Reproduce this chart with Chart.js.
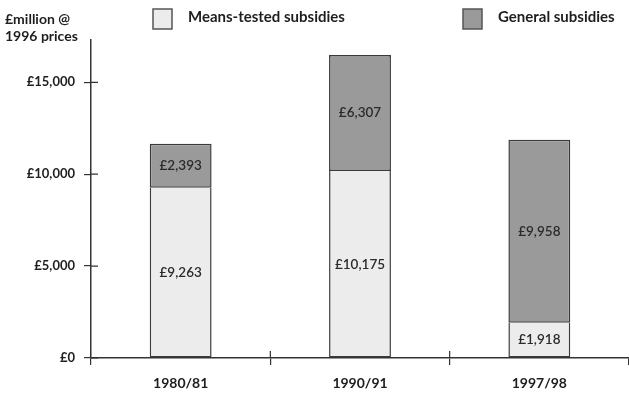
<!DOCTYPE html>
<html>
<head>
<meta charset="utf-8">
<script src="https://cdn.jsdelivr.net/npm/chart.js@4"></script>
<style>
  html, body { margin: 0; padding: 0; background: #fff; }
  #wrap { width: 629px; height: 395px; }
</style>
</head>
<body>
<div id="wrap"><canvas id="subsidies"></canvas></div>
<script>
const years = ['1980/81', '1990/91', '1997/98'];
const meansTested = [9263, 10175, 1918];
const general = [2393, 6307, 9958];
const yTicks = [0, 5000, 10000, 15000];

const FONT = 'Lato, "Open Sans", sans-serif';
const INK = '#1e1e1e';

// money labels like £9,263
const money = v => '£' + v.toLocaleString('en-GB');

// values printed inside each bar segment
const segmentLabels = {
    id: 'segmentLabels',
    afterDatasetsDraw(chart) {
        const ctx = chart.ctx;
        ctx.save();
        ctx.font = '600 13.5px ' + FONT;
        ctx.fillStyle = '#2a2a2a';
        ctx.textAlign = 'center';
        ctx.textBaseline = 'middle';
        chart.data.datasets.forEach((ds, i) => {
            chart.getDatasetMeta(i).data.forEach((bar, j) => {
                const y = (bar.y + bar.base) / 2;
                ctx.fillText(money(ds.data[j]), bar.x, y);
            });
        });
        ctx.restore();
    }
};

// axis title top-left, legend boxes, and the inner half of the tick crosses
const decorations = {
    id: 'decorations',
    afterDraw(chart) {
        const ctx = chart.ctx;
        const yScale = chart.scales.y;
        const xScale = chart.scales.x;
        ctx.save();
        ctx.fillStyle = INK;
        ctx.font = 'bold 14px ' + FONT;
        ctx.textAlign = 'left';
        ctx.textBaseline = 'middle';
        ctx.fillText('£million @', 5, 19);
        ctx.fillText('1996 prices', 5, 36);

        // legend
        const legendX = [153, 463];
        chart.data.datasets.forEach((ds, i) => {
            const x = legendX[i];
            ctx.fillStyle = ds.backgroundColor;
            ctx.fillRect(x, 9, 19, 20);
            ctx.strokeStyle = '#555';
            ctx.lineWidth = 1.5;
            ctx.strokeRect(x, 9, 19, 20);
            ctx.fillStyle = INK;
            ctx.font = 'bold 15px ' + FONT;
            ctx.fillText(ds.label, x + 35, 17);
        });

        // tick crosses
        ctx.strokeStyle = '#333';
        ctx.lineWidth = 1.2;
        ctx.beginPath();
        yTicks.forEach(t => {
            const y = yScale.getPixelForValue(t);
            ctx.moveTo(yScale.right, y);
            ctx.lineTo(yScale.right + 7, y);
        });
        for (let i = 1; i < years.length; i++) {
            const x = (xScale.getPixelForTick(i - 1) + xScale.getPixelForTick(i)) / 2;
            ctx.moveTo(x, xScale.top);
            ctx.lineTo(x, xScale.top - 7);
        }
        ctx.stroke();
        ctx.restore();
    }
};

new Chart(document.getElementById('subsidies').getContext('2d'), {
    type: 'bar',
    data: {
        labels: years,
        datasets: [{
            label: 'Means-tested subsidies',
            data: meansTested,
            backgroundColor: '#ececec',
            borderColor: '#3a3a3a',
            borderWidth: 1.5,
            borderSkipped: 'top'
        }, {
            label: 'General subsidies',
            data: general,
            backgroundColor: '#9a9a9a',
            borderColor: '#3a3a3a',
            borderWidth: 1.5,
            borderSkipped: false
        }]
    },
    options: {
        responsive: true,
        maintainAspectRatio: false,
        animation: false,
        layout: { padding: { top: 40, right: 0, left: 0, bottom: 0 } },
        datasets: {
            bar: { barPercentage: 0.345, categoryPercentage: 1 }
        },
        plugins: {
            legend: { display: false },
            tooltip: { enabled: false }
        },
        scales: {
            x: {
                stacked: true,
                afterFit: s => { s.height = 37; },
                grid: {
                    offset: true,
                    drawOnChartArea: false,
                    drawTicks: true,
                    tickLength: 7,
                    color: '#333',
                    lineWidth: 1.2
                },
                border: { color: '#333', width: 1.5 },
                ticks: {
                    color: INK,
                    padding: 10,
                    font: { family: FONT, size: 14, weight: 'bold' }
                }
            },
            y: {
                stacked: true,
                min: 0,
                max: 17300,
                afterFit: s => { s.width = 91; },
                afterBuildTicks: s => { s.ticks = yTicks.map(v => ({ value: v })); },
                grid: {
                    drawOnChartArea: false,
                    drawTicks: true,
                    tickLength: 7,
                    color: '#333',
                    lineWidth: 1.2
                },
                border: { color: '#333', width: 1.5 },
                ticks: {
                    color: INK,
                    padding: 9,
                    font: { family: FONT, size: 13, weight: 'bold' },
                    callback: v => money(v)
                }
            }
        }
    },
    plugins: [segmentLabels, decorations]
});
</script>
</body>
</html>
